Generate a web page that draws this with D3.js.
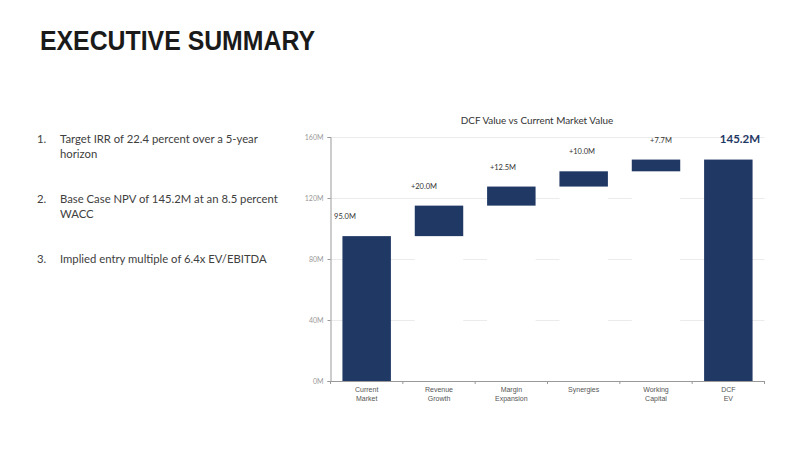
<!DOCTYPE html>
<html><head><meta charset="utf-8">
<script src="https://cdn.jsdelivr.net/npm/d3@7"></script>
<style>
html,body{margin:0;padding:0;background:#fff;}
svg{display:block;}
</style></head>
<body>
<svg id="c" width="800" height="450"></svg>
<script>
const pageTitle = "EXECUTIVE SUMMARY";
const bullets = [
  ["Target IRR of 22.4 percent over a 5-year", "horizon"],
  ["Base Case NPV of 145.2M at an 8.5 percent", "WACC"],
  ["Implied entry multiple of 6.4x EV/EBITDA"]
];
const chartTitle = "DCF Value vs Current Market Value";
const categories = [["Current","Market"],["Revenue","Growth"],["Margin","Expansion"],["Synergies"],["Working","Capital"],["DCF","EV"]];
const steps = [95.0, 20.0, 12.5, 10.0, 7.7];   // start value then increments
const totalValue = 145.2;
const yTicks = [0, 40, 80, 120, 160];

const svg = d3.select("#c");
const navy = "#1f3864";

// page title
svg.append("text").attr("x", 40).attr("y", 50)
  .attr("font-family", "Liberation Sans, Arial, sans-serif").attr("font-weight", "bold")
  .attr("font-size", 27.5).attr("fill", "#1a1a1a")
  .attr("textLength", 275).attr("lengthAdjust", "spacingAndGlyphs").text(pageTitle);

// bullets
const bulletTop = [143, 203, 263];
bullets.forEach((lines, i) => {
  const g = svg.append("g").attr("font-family", "Lato, 'Open Sans', sans-serif").attr("font-size", 11.3).attr("fill", "#404040");
  g.append("text").attr("x", 37).attr("y", bulletTop[i]).text((i + 1) + ".");
  lines.forEach((l, j) => g.append("text").attr("x", 60).attr("y", bulletTop[i] + j * 15).text(l));
});

// chart
const pLeft = 330.5, pRight = 764.5, pTop = 137, pBottom = 381;
const y = d3.scaleLinear().domain([0, 160]).range([pBottom, pTop]);
const x = d3.scaleBand().domain(d3.range(categories.length)).range([pLeft, pRight]).paddingInner(0.33).paddingOuter(0.165);
const lx = d3.scaleLinear().domain([0, 5]).range([345, 740]);

// build waterfall data
const data = [];
let cum = 0;
steps.forEach((v, i) => {
  if (i === 0) { data.push({i, base: 0, top: v, label: v.toFixed(1) + "M"}); cum = v; }
  else { data.push({i, base: cum, top: cum + v, label: "+" + v.toFixed(1) + "M"}); cum += v; }
});
data.push({i: 5, base: 0, top: totalValue, label: totalValue.toFixed(1) + "M", total: true});

svg.append("text").attr("x", 537).attr("y", 124).attr("text-anchor", "middle")
  .attr("font-family", "Lato, 'Open Sans', sans-serif").attr("font-size", 9.9).attr("fill", "#333")
  .text(chartTitle);

// gridlines
svg.append("g").selectAll("line").data(yTicks.filter(t => t > 0)).join("line")
  .attr("x1", pLeft).attr("x2", pRight).attr("y1", d => y(d) + 0.5).attr("y2", d => y(d) + 0.5)
  .attr("stroke", "#e6e6e6").attr("stroke-width", 0.8);

// white base bars (hide gridlines)
svg.append("g").selectAll("rect").data(data.filter(d => d.base > 0)).join("rect")
  .attr("x", d => x(d.i)).attr("width", x.bandwidth())
  .attr("y", d => y(d.base)).attr("height", d => y(0) - y(d.base))
  .attr("fill", "#fff");

// value bars
svg.append("g").selectAll("rect").data(data).join("rect")
  .attr("x", d => x(d.i)).attr("width", x.bandwidth())
  .attr("y", d => y(d.top)).attr("height", d => y(d.base) - y(d.top))
  .attr("fill", navy);

// y axis
const ya = svg.append("g").attr("transform", `translate(${pLeft},0)`)
  .call(d3.axisLeft(y).tickValues(yTicks).tickSize(3).tickFormat(d => d + "M"));
ya.select(".domain").attr("stroke", "#999");
ya.selectAll(".tick line").attr("stroke", "#999");
ya.selectAll("text").attr("font-family", "Lato, 'Open Sans', sans-serif").attr("font-size", 7).attr("fill", "#999").attr("dx", -1);

// x axis
const xa = svg.append("g").attr("transform", `translate(0,${pBottom})`);
xa.append("line").attr("x1", pLeft).attr("x2", pRight).attr("y1", 0.5).attr("y2", 0.5).attr("stroke", "#999");
const step = x.step();
xa.selectAll(".tk").data(d3.range(categories.length + 1)).join("line")
  .attr("x1", d => pLeft + d * step).attr("x2", d => pLeft + d * step)
  .attr("y1", 0).attr("y2", 3).attr("stroke", "#999");
categories.forEach((lines, i) => {
  const t = xa.append("text").attr("text-anchor", "middle")
    .attr("font-family", "Liberation Sans, Arial, sans-serif").attr("font-size", 7).attr("fill", "#555");
  lines.forEach((l, j) => t.append("tspan").attr("x", x(i) + x.bandwidth() / 2).attr("y", 11 + j * 9).text(l));
});

// value labels
svg.append("g").selectAll("text").data(data).join("text")
  .attr("x", d => lx(d.i)).attr("y", d => y(d.top) - 17)
  .attr("text-anchor", "middle")
  .attr("font-family", "Lato, 'Open Sans', sans-serif")
  .attr("font-weight", d => d.total ? "bold" : "normal")
  .attr("font-size", d => d.total ? 11.5 : 7.5)
  .attr("fill", d => d.total ? navy : "#333")
  .text(d => d.label);
</script>
</body></html>
